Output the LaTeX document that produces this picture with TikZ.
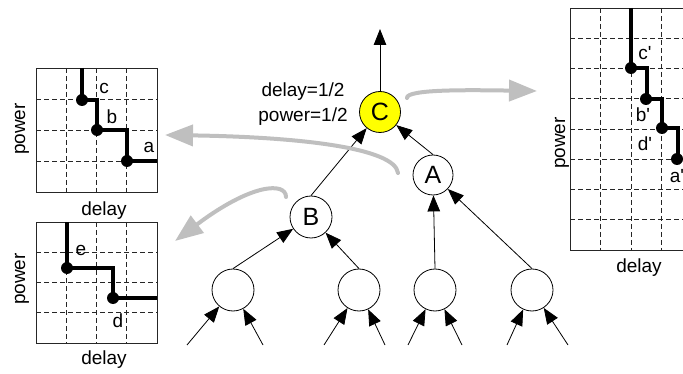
\documentclass[tikz,border=0pt]{standalone}
\usepackage{fontspec}
\setmainfont{Liberation Sans}
\usetikzlibrary{arrows.meta}
\begin{document}
\begin{tikzpicture}[x=1pt,y=-1pt,
  gridbox/.style={draw=black!85, line width=0.8pt},
  gridln/.style={draw=black!85, line width=0.7pt, dash pattern=on 5pt off 3pt},
  curve/.style={draw=black, line width=3.2pt, line join=miter},
  dotn/.style={circle, fill=black, inner sep=0pt, minimum size=12pt},
  lbl/.style={font=\fontsize{19}{22}\selectfont, inner sep=0pt},
  tnode/.style={circle, draw=black, line width=0.8pt, minimum size=42pt, inner sep=0pt, font=\fontsize{25}{28}\selectfont},
  edge/.style={draw=black, line width=0.8pt, -{Triangle[length=16pt,width=12.5pt]}},
  garrow/.style={draw=black!25, line width=4pt, line cap=round, -{Triangle[length=28pt,width=21pt]}}
]
\useasboundingbox (0,0) rectangle (683,374);
\clip (0,0) rectangle (683,374);

% ---------- chart 1 (top left)
\foreach \x in {66.25,96.5,126.75} \draw[gridln] (\x,68) -- (\x,192);
\foreach \y in {99,130,161} \draw[gridln] (36,\y) -- (157,\y);
\draw[gridbox] (36,68) rectangle (157,192);
\draw[curve] (82,68) -- (82,100) -- (97,100) -- (97,130) -- (127,130) -- (127,161) -- (157,161);
\node[dotn] (dc) at (82,100) {};
\node[dotn] (db) at (97,130) {};
\node[dotn] (da) at (127,161) {};
\node[lbl] (lc) at (104,88) {c};
\node[lbl] (lb) at (112,117) {b};
\node[lbl] (la) at (149,147) {a};
\node[lbl, rotate=90] (p1) at (22,129) {power};
\node[lbl] (x1) at (104,211) {delay};

% ---------- chart 2 (bottom left)
\foreach \x in {66.25,96.5,126.75} \draw[gridln] (\x,222) -- (\x,343);
\foreach \y in {252.25,282.5,312.75} \draw[gridln] (36,\y) -- (157,\y);
\draw[gridbox] (36,222) rectangle (157,343);
\draw[curve] (67,222) -- (67,268) -- (113,268) -- (113,298) -- (157,298);
\node[dotn] (de) at (67,268) {};
\node[dotn] (dd) at (113,298) {};
\node[lbl] (le) at (81,250) {e};
\node[lbl] (ld) at (118,321) {d};
\node[lbl, rotate=90] (p2) at (22,279) {power};
\node[lbl] (x2) at (104,360) {delay};

% ---------- chart 3 (right)
\foreach \x in {600.5,631,661.5} \draw[gridln] (\x,8) -- (\x,250);
\foreach \y in {38.25,68.5,98.75,129,159.25,189.5,219.75} \draw[gridln] (570,\y) -- (692,\y);
\draw[gridbox] (570,8) rectangle (692,250);
\draw[curve] (631,8) -- (631,68) -- (647,68) -- (647,99) -- (662,99) -- (662,128) -- (678,128) -- (678,159);
\node[dotn] (dc2) at (631,68) {};
\node[dotn] (db2) at (646,99) {};
\node[dotn] (dd2) at (662,128) {};
\node[dotn] (da2) at (677,159) {};
\node[lbl] (lc2) at (645,53) {c\textquotesingle};
\node[lbl] (lb2) at (643,115) {b\textquotesingle};
\node[lbl] (ld2) at (645,144) {d\textquotesingle};
\node[lbl] (la2) at (677,176) {a\textquotesingle};
\node[lbl, rotate=90] (p3) at (562,143) {power};
\node[lbl] (x3) at (639,268) {delay};

% ---------- tree
\node[tnode, fill={rgb,255:red,255;green,255;blue,0}, minimum size=41pt] (C) at (380,112) {C};
\node[tnode, minimum size=40pt] (A) at (433,175) {A};
\node[tnode] (B) at (311,217) {B};
\node[tnode] (L1) at (233,290) {};
\node[tnode] (L2) at (359,290) {};
\node[tnode] (L3) at (435,290) {};
\node[tnode] (L4) at (532,290) {};
\coordinate (top) at (380,29);
\coordinate (i1) at (187,345);
\coordinate (i2) at (263,345);
\coordinate (i3) at (324,345);
\coordinate (i4) at (385,345);
\coordinate (i5) at (408,345);
\coordinate (i6) at (462,345);
\coordinate (i7) at (507,345);
\coordinate (i8) at (568,345);

\draw[edge] (C.north) -- (top);
\draw[edge] (B.north) -- (C);
\draw[edge] (A.north) -- (C);
\draw[edge] (L1.north) -- (B);
\draw[edge] (L2.north) -- (B);
\draw[edge] (L3.north) -- (A);
\draw[edge] (L4.north) -- (A);
\draw[edge] (i1) -- (L1);
\draw[edge] (i2) -- (L1);
\draw[edge] (i3) -- (L2);
\draw[edge] (i4) -- (L2);
\draw[edge] (i5) -- (L3);
\draw[edge] (i6) -- (L3);
\draw[edge] (i7) -- (L4);
\draw[edge] (i8) -- (L4);

\node[lbl] (t1) at (303,92) {delay=1/2};
\node[lbl] (t2) at (303,117) {power=1/2};

% ---------- gray arrows
\coordinate (g1s) at (407,98);
\coordinate (g1e) at (537,91);
\coordinate (g2s) at (398,173);
\coordinate (g2e) at (165,135);
\coordinate (g3s) at (286,197);
\coordinate (g3e) at (175,241);
\draw[garrow] (g1s) .. controls (406,89) and (470,90) .. (g1e);
\draw[garrow] (g2s) .. controls (395,148) and (300,137) .. (g2e);
\draw[garrow] (g3s) .. controls (286,182) and (252,183) .. (g3e);
\end{tikzpicture}
\end{document}
